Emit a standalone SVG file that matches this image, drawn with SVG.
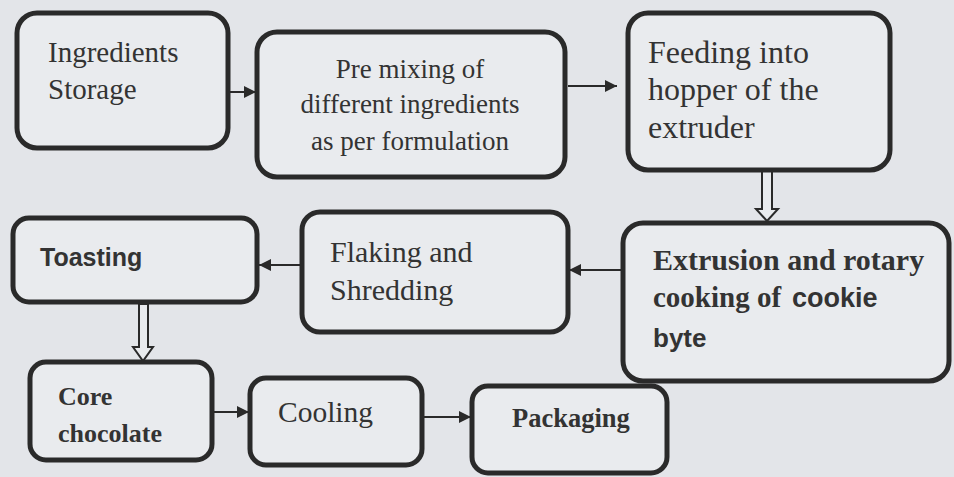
<svg xmlns="http://www.w3.org/2000/svg" width="954" height="477" viewBox="0 0 954 477">
<defs>
<style>
.box{fill:#e9ebee;stroke:#2a2a2a;stroke-width:5}
.t{font-family:"Liberation Serif","Times New Roman",serif;fill:#333}
.b{font-weight:bold}
.s{font-family:"Liberation Sans",Arial,sans-serif;font-weight:bold;fill:#333}
.ln{stroke:#2a2a2a;stroke-width:2;fill:none}
.hollow{fill:#e9ebee;stroke:#2a2a2a;stroke-width:2}
</style>
<marker id="ah" markerUnits="userSpaceOnUse" markerWidth="12" markerHeight="12" viewBox="0 0 12 12" refX="12" refY="6" orient="auto">
<path d="M0,0 L12,6 L0,12 Z" fill="#2a2a2a"/>
</marker>
</defs>
<rect x="0" y="0" width="954" height="477" fill="#e3e5e9"/>
<g id="connectors">
<path class="ln" d="M229,92 L256,92" marker-end="url(#ah)"/>
<path class="ln" d="M568,86 L617,86" marker-end="url(#ah)"/>
<path class="ln" d="M621,270 L569,270" marker-end="url(#ah)"/>
<path class="ln" d="M300,265 L259,265" marker-end="url(#ah)"/>
<path class="ln" d="M214,412 L249,412" marker-end="url(#ah)"/>
<path class="ln" d="M424,417 L471,417" marker-end="url(#ah)"/>
<polygon class="hollow" points="762,171 772,171 772,209 778,209 767,221 756,209 762,209"/>
<polygon class="hollow" points="139,304 148,304 148,347 153,347 143,361 133,347 139,347"/>
</g>
<g id="n1"><rect class="box" x="17" y="13" width="211" height="135" rx="20"/>
<text class="t" font-size="29" x="48" y="62">Ingredients</text>
<text class="t" font-size="29" x="48" y="99">Storage</text></g>
<g id="n2"><rect class="box" x="257" y="32" width="308" height="145" rx="20"/>
<text class="t" font-size="27" text-anchor="middle" x="410" y="78">Pre mixing of</text>
<text class="t" font-size="27" text-anchor="middle" x="410" y="113">different ingredients</text>
<text class="t" font-size="27" text-anchor="middle" x="410" y="150">as per formulation</text></g>
<g id="n3"><rect class="box" x="628" y="13" width="262" height="157" rx="20"/>
<text class="t" font-size="32" x="648" y="63">Feeding into</text>
<text class="t" font-size="32" x="648" y="100">hopper of the</text>
<text class="t" font-size="32" x="648" y="138">extruder</text></g>
<g id="n4"><rect class="box" x="623" y="223" width="326" height="158" rx="20"/>
<text class="t b" font-size="30" x="653" y="270">Extrusion and rotary</text>
<text class="t b" font-size="29" x="653" y="307">cooking of</text>
<text class="s" font-size="27" x="792" y="307">cookie</text>
<text class="s" font-size="26" x="653" y="347">byte</text></g>
<g id="n5"><rect class="box" x="302" y="212" width="266" height="120" rx="18"/>
<text class="t" font-size="30" x="330" y="262">Flaking and</text>
<text class="t" font-size="30" x="330" y="300">Shredding</text></g>
<g id="n6"><rect class="box" x="13" y="218" width="244" height="84" rx="16"/>
<text class="s" font-size="25" x="40" y="266">Toasting</text></g>
<g id="n7"><rect class="box" x="30" y="362" width="182" height="98" rx="16"/>
<text class="t b" font-size="26" x="58" y="405">Core</text>
<text class="t b" font-size="26" x="58" y="442">chocolate</text></g>
<g id="n8"><rect class="box" x="250" y="378" width="172" height="87" rx="16"/>
<text class="t" font-size="29.5" x="278" y="422">Cooling</text></g>
<g id="n9"><rect class="box" x="472" y="386" width="195" height="87" rx="16"/>
<text class="t b" font-size="26.5" x="512" y="427">Packaging</text></g>
</svg>
